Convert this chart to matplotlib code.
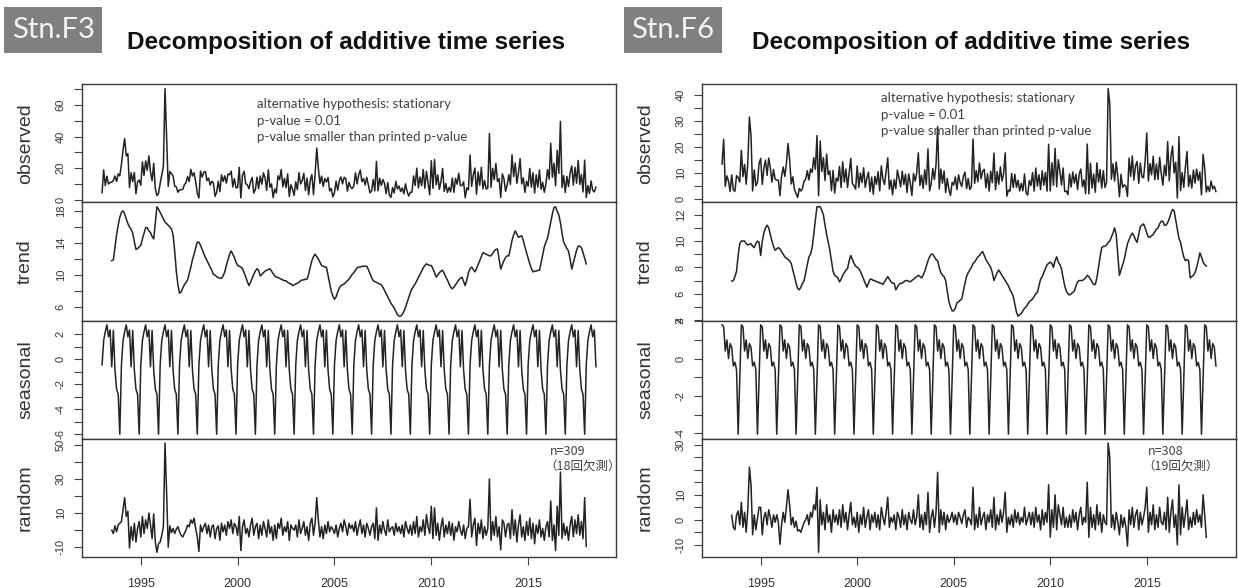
import numpy as np
import matplotlib
matplotlib.use("Agg")
import matplotlib.pyplot as plt
from matplotlib.patches import Rectangle

# ---------------- data read off the two R decompose() plots ----------------
# monthly series, first month = Jan 1993

# Stn.F3 seasonal component, Jan..Dec (repeats every year)
f3_seasonal = [-0.45, 1.5, 2.2, 2.75, 1.8, 2.35, -0.6, 2.3, -0.85, -2.4, -2.8, -6.0]

# Stn.F3 trend, Jul 1993 .. Jan 2018
f3_trend = [
    11.8, 11.9, 13.5, 15.0, 16.2, 17.2,
    17.8, 18.0, 17.6, 17.0, 16.4, 16.0, 15.7, 15.2, 14.2, 13.2, 13.3, 13.5,
    13.7, 14.5, 15.2, 15.9, 15.9, 15.5, 15.3, 14.8, 14.5, 16.5, 18.5, 18.2,
    17.8, 17.4, 17.0, 16.6, 16.4, 16.2, 16.0, 15.75, 15.0, 13.0, 10.5, 8.8,
    7.75, 7.9, 8.4, 8.8, 9.1, 9.4, 10.2, 11.0, 11.9, 12.6, 13.4, 14.1,
    14.1, 13.7, 13.2, 12.7, 12.2, 11.8, 11.4, 11.0, 10.6, 10.1, 10.0, 9.8,
    9.7, 9.6, 9.6, 9.9, 10.4, 11.2, 11.9, 12.6, 13.0, 12.6, 12.2, 11.6,
    11.2, 11.1, 11.0, 10.8, 10.3, 9.8, 9.2, 8.7, 9.1, 9.6, 10.1, 10.5,
    10.8, 10.6, 9.9, 10.1, 10.3, 10.5, 10.6, 10.7, 10.8, 10.5, 10.2, 9.9,
    9.75, 9.7, 9.6, 9.5, 9.4, 9.3, 9.3, 9.1, 9.0, 8.9, 8.7, 8.8,
    8.9, 9.0, 9.1, 9.3, 9.4, 9.4, 9.5, 9.5, 10.1, 11.0, 11.8, 12.3,
    12.6, 12.3, 12.0, 11.6, 11.2, 11.1, 11.0, 11.0, 10.0, 9.0, 8.0, 7.4,
    7.0, 7.3, 7.9, 8.4, 8.7, 8.8, 8.9, 9.1, 9.3, 9.5, 9.8, 10.1,
    10.3, 10.6, 10.9, 11.0, 11.0, 11.1, 11.1, 11.1, 11.1, 10.7, 10.2, 9.7,
    9.3, 9.2, 9.1, 9.0, 8.9, 8.8, 8.5, 8.1, 7.7, 7.3, 6.9, 6.5,
    6.2, 5.9, 5.5, 5.1, 4.9, 4.9, 5.1, 5.5, 6.0, 6.6, 7.2, 7.8,
    8.3, 8.6, 8.9, 9.3, 9.7, 10.1, 10.5, 10.9, 11.2, 11.4, 11.3, 11.2,
    11.2, 10.8, 10.3, 9.75, 10.0, 10.3, 10.5, 10.6, 10.2, 9.75, 9.4, 8.9,
    8.5, 8.3, 8.5, 8.8, 9.1, 9.4, 9.6, 9.75, 9.2, 8.7, 9.4, 10.3,
    10.8, 11.0, 10.7, 10.4, 10.8, 11.3, 11.8, 12.3, 12.8, 12.7, 12.6, 12.5,
    12.4, 12.4, 12.7, 13.0, 13.2, 13.25, 12.0, 10.75, 11.3, 11.8, 12.2, 12.4,
    12.4, 13.3, 14.3, 15.0, 15.5, 15.1, 14.7, 14.8, 14.9, 14.3, 13.5, 12.8,
    12.1, 11.4, 10.8, 10.4, 10.5, 10.5, 10.6, 10.6, 11.5, 12.5, 13.5, 14.1,
    14.6, 15.6, 16.6, 17.6, 18.4, 18.5, 17.9, 17.5, 16.5, 15.2, 14.1, 13.7,
    13.3, 13.0, 12.0, 10.75, 11.5, 12.3, 13.1, 13.6, 13.6, 13.4, 12.8, 12.1,
    11.4,
]

# Stn.F3 random component, same months as the trend
f3_random = [
    0.0, -2.0, 2.5, -1.0, 3.0, 4.0,
    5.0, 12.0, 19.0, 8.0, 11.0, -10.5, 2.0, -6.0, 4.0, -7.0, 1.0, 5.0,
    -4.0, 8.0, -2.0, 6.0, 1.0, 10.0, 3.0, -5.0, 9.5, -7.0, -13.0, -8.0,
    -7.0, -3.0, 2.0, 51.0, 22.0, -10.0, 2.5, -1.5, 1.0, -2.0, 0.5, 2.0,
    -1.0, -3.0, -4.0, -2.0, 0.0, 3.0, 2.0, 6.0, 4.0, 7.0, 1.0, -4.0,
    -12.5, 3.0, -1.0, 2.0, 4.0, -2.0, 3.0, -4.0, 2.0, 3.0, -5.0, 1.0,
    2.5, -6.0, 4.0, -1.0, 3.0, -3.0, 5.0, 1.0, 6.0, -2.0, 4.0, 2.0,
    -3.0, 8.0, -12.0, 2.0, 6.0, -2.0, 1.0, -4.0, 3.0, 7.0, -3.0, 2.0,
    4.0, -5.0, 3.0, -3.0, 5.0, 1.0, -4.0, 6.0, -2.0, 2.0, -6.0, 3.0,
    -5.0, 4.0, 1.0, 7.0, -3.0, 2.0, -1.0, 5.0, -6.0, 3.0, 1.0, 0.0,
    3.0, -4.0, 6.0, -2.0, 1.0, 5.0, -3.0, 2.0, -6.0, 4.0, 7.0, -3.0,
    4.0, 19.0, 6.0, -4.0, 2.0, -5.0, 3.0, -2.0, 5.0, -1.0, 2.0, 0.5,
    -2.0, 3.0, -4.0, 1.0, 4.0, -1.0, 6.0, 2.0, -3.0, 4.0, 1.0, 3.0,
    -1.0, 5.0, -3.0, 2.0, 6.0, -2.0, 3.0, -4.0, 4.0, 1.0, -3.0, 2.0,
    4.0, -5.0, 13.0, -6.0, 3.0, -2.0, 5.0, 0.0, -3.0, 6.0, -1.0, 1.0,
    2.0, -3.0, 4.0, -1.0, 2.0, -2.0, 3.0, -4.0, 5.0, 1.0, -2.0, 3.0,
    -3.0, 5.0, -2.0, 8.0, -4.0, 2.0, -1.0, 6.0, -3.0, 9.0, 2.0, -2.0,
    14.0, -5.0, 13.0, -3.0, 4.0, -6.0, 2.0, 7.0, -4.0, 3.0, -2.0, 5.0,
    -3.0, 4.0, -6.0, 2.0, -1.0, 5.0, 0.0, -3.0, 3.0, -5.0, 1.0, 2.0,
    18.0, -4.0, 3.0, 7.0, -9.0, 4.0, -2.0, 6.0, -5.0, 2.0, -3.0, 1.0,
    30.0, -6.0, 5.0, -3.0, 8.0, -4.0, 2.0, -11.5, 6.0, 4.0, -4.0, 3.0,
    4.0, -5.0, 12.0, -3.0, 6.0, -7.0, 3.0, 9.0, -4.0, 2.0, -6.0, 5.0,
    -3.0, 7.0, -5.0, 4.0, -8.0, 3.0, -2.0, 6.0, -4.0, 1.0, -6.0, 2.0,
    5.0, -4.0, 17.0, -6.0, 3.0, -12.0, 14.0, -3.0, 34.0, -5.0, 4.0, -3.0,
    2.0, -6.0, 3.0, 8.0, -4.0, 6.0, -2.0, 9.0, -3.0, 5.0, -5.0, 19.0,
    -9.5,
]

# Stn.F3 observed months without a trend value (first / last six)
f3_obs_head = [4.5, 19.0, 9.0, 15.0, 10.0, 11.0]
f3_obs_tail = [9.0, 4.0, 12.0, 6.0, 5.0, 8.0]

# Stn.F6 seasonal component, Jan..Dec
f6_seasonal = [1.8, 1.7, 0.4, 1.0, 0.0, 0.8, 0.6, -0.4, -0.2, -0.6, -4.05, -1.2]

# Stn.F6 trend, Jul 1993 .. Feb 2018
f6_trend = [
    6.96, 7.0, 7.3, 7.7, 8.9, 9.8,
    10.0, 10.0, 10.0, 9.8, 9.7, 9.75, 9.8, 9.6, 9.5, 9.8, 10.0, 9.9,
    8.9, 10.0, 10.6, 11.0, 11.2, 11.0, 10.5, 10.0, 9.6, 9.3, 9.4, 9.5,
    9.4, 9.2, 9.0, 8.8, 8.7, 8.6, 8.5, 8.3, 7.8, 7.3, 6.8, 6.4,
    6.3, 6.5, 6.8, 7.0, 7.6, 8.2, 8.8, 9.0, 9.5, 10.5, 11.6, 12.6,
    12.6, 12.6, 12.3, 12.0, 11.2, 10.5, 9.9, 9.3, 8.5, 7.7, 7.4, 7.3,
    7.2, 6.9, 7.1, 7.4, 7.6, 7.8, 7.9, 8.5, 8.9, 8.6, 8.3, 8.1,
    8.0, 7.9, 7.7, 7.4, 7.1, 6.8, 6.5, 6.8, 7.1, 7.1, 7.0, 7.0,
    6.9, 6.9, 6.8, 6.8, 6.7, 6.9, 7.1, 7.3, 7.1, 6.9, 6.8, 6.8,
    6.3, 6.5, 6.7, 6.8, 6.8, 6.9, 7.0, 7.0, 6.95, 6.9, 7.0, 7.1,
    7.2, 7.3, 7.4, 7.3, 7.2, 7.4, 7.7, 8.1, 8.5, 8.8, 9.0, 9.0,
    8.8, 8.6, 8.5, 8.0, 7.6, 7.4, 7.3, 7.0, 6.2, 5.4, 5.0, 4.7,
    4.7, 4.9, 5.3, 5.4, 5.5, 5.6, 6.2, 6.8, 7.3, 7.6, 7.8, 8.0,
    8.3, 8.4, 8.6, 8.8, 8.9, 9.1, 9.2, 8.9, 8.6, 8.4, 8.2, 8.0,
    7.6, 7.0, 7.3, 7.6, 7.8, 7.6, 7.4, 7.2, 7.0, 6.8, 6.6, 6.3,
    6.1, 5.8, 5.2, 4.6, 4.3, 4.4, 4.5, 4.7, 4.9, 5.0, 5.2, 5.4,
    5.5, 5.6, 5.8, 6.0, 6.1, 6.6, 7.1, 7.3, 7.6, 7.9, 8.2, 8.3,
    8.4, 8.3, 8.0, 8.5, 8.8, 8.4, 8.2, 7.9, 7.2, 6.6, 6.2, 6.0,
    5.9, 6.0, 6.1, 6.2, 6.6, 6.9, 7.0, 7.0, 7.0, 7.1, 7.2, 7.4,
    7.3, 7.1, 6.9, 6.7, 6.7, 7.2, 8.0, 8.8, 9.5, 9.6, 9.6, 9.7,
    9.9, 10.0, 10.3, 10.6, 11.0, 10.5, 9.0, 7.4, 7.8, 8.2, 8.6, 9.2,
    9.8, 10.1, 10.4, 10.6, 10.4, 10.1, 9.9, 10.5, 11.1, 11.2, 11.3, 11.0,
    10.6, 10.3, 10.3, 10.4, 10.5, 10.7, 10.9, 11.0, 11.3, 11.5, 11.5, 11.2,
    11.2, 11.4, 11.7, 12.1, 12.4, 12.3, 11.6, 10.9, 10.2, 9.9, 9.3, 8.8,
    8.5, 8.6, 8.5, 7.2, 7.3, 7.4, 7.6, 8.0, 8.5, 9.1, 8.8, 8.4,
    8.2, 8.1,
]

# Stn.F6 random component, same months as the trend
f6_random = [
    1.8, -3.0, -4.0, 2.0, 3.5, -2.0,
    7.0, -3.0, 3.0, -5.0, 4.0, 21.0, 14.0, -6.0, 2.0, -4.0, 0.5, 5.0,
    5.0, -6.0, 1.0, 3.0, -2.0, 4.0, 1.0, -3.0, 2.0, -1.0, 2.0, -1.0,
    -9.8, -2.0, 3.0, -1.0, 5.0, 12.0, 6.0, -2.0, 1.0, -3.0, -0.5, -4.5,
    -4.0, -5.0, -3.0, -1.0, 0.0, 2.0, -2.0, 3.0, 1.0, 6.0, 4.0, 13.0,
    -13.0, 8.0, -2.0, 3.0, -4.0, 6.0, -1.0, 2.0, -5.0, 4.0, -1.0, 2.0,
    -2.0, 4.0, -3.0, 6.0, -1.0, 3.0, -4.0, 2.0, 7.0, -2.0, 1.0, -3.0,
    3.0, -5.0, 2.0, -2.0, 5.0, -3.0, 1.0, 4.0, -4.0, 2.0, -1.0, 3.0,
    -3.0, 2.0, -4.0, 5.0, 1.0, -2.0, 3.0, 9.0, -3.0, 1.0, -1.0, 2.0,
    -4.0, 3.0, 1.0, -3.0, 4.0, -2.0, 2.0, -4.0, 3.0, 0.0, -1.5, 4.0,
    -2.0, 1.0, 10.0, -3.0, 2.0, -4.0, 3.0, -2.0, 11.0, -5.0, 1.0, 4.0,
    -3.0, 3.0, 19.0, -5.0, 4.0, -2.0, 3.0, -4.0, 2.0, -1.0, 0.5, 3.0,
    -1.0, 2.0, -2.0, 3.0, 1.0, -1.5, 2.0, 4.0, -3.0, 1.0, 0.0, -2.0,
    13.0, -4.0, 2.0, -3.0, 5.0, -2.0, 1.0, 3.0, -4.0, 2.0, -1.0, 4.0,
    -3.0, 9.0, -4.0, 2.0, -2.0, 4.0, -1.0, 3.0, 11.0, -5.0, 1.0, -2.0,
    2.0, -3.0, 4.0, -1.0, 3.0, -2.0, 1.0, -1.0, 5.0, -2.0, 0.5, 3.0,
    -2.0, 3.0, -3.0, 5.0, -1.0, 2.0, -4.0, 4.0, -2.0, 3.0, -1.0, 14.0,
    -7.0, 4.0, -3.0, 10.0, -4.0, 6.0, 2.0, -2.0, 5.0, -3.0, 1.0, -3.0,
    2.0, -3.0, 4.0, -1.0, 3.0, -4.0, 2.0, 5.0, -2.0, 1.0, -1.0, 15.0,
    -7.0, 5.0, -3.0, 2.0, -4.0, 6.0, -2.0, 3.0, -5.0, 2.0, -1.0, -2.0,
    30.7, 25.0, -3.0, 2.0, -4.0, 3.0, -1.0, -6.0, 2.0, -3.0, 1.0, -3.0,
    -10.5, 4.0, -2.0, 5.0, -3.0, 2.0, 4.0, -4.0, 3.0, -2.0, 1.0, 5.0,
    13.0, -5.0, 3.0, -2.0, 6.0, -4.0, 2.0, -3.0, 5.0, -1.0, -2.0, 3.0,
    -4.0, 9.0, -5.0, 3.0, 8.0, -3.0, 2.0, -10.0, 14.0, -6.0, 5.0, -3.0,
    2.0, 8.0, -4.0, 1.0, -3.0, 3.0, -2.0, 4.0, -1.0, 2.0, -3.0, 10.0,
    2.0, -7.0,
]

f6_obs_head = [13.5, 23.0, 5.0, 9.0, 7.0, 3.0]
f6_obs_tail = [5.0, 3.0, 7.0, 4.0, 5.0, 3.0]

panel_names = ["observed", "trend", "seasonal", "random"]
x_ticks = [1995, 2000, 2005, 2010, 2015]

# y ticks per panel; labels R left out (overlap) are blank
f3_yticks = [
    (list(range(0, 71, 10)), [0, 20, 40, 60]),
    (list(range(6, 19, 2)), [6, 10, 14, 18]),
    (list(range(-6, 3)), [-6, -4, -2, 0, 2]),
    (list(range(-10, 51, 10)), [-10, 10, 30, 50]),
]
f6_yticks = [
    (list(range(0, 41, 5)), [0, 10, 20, 30, 40]),
    (list(range(4, 13)), [4, 6, 8, 10, 12]),
    (list(range(-4, 3)), [-4, -2, 0, 2]),
    (list(range(-10, 31, 5)), [-10, 0, 10, 30]),
]


def decompose_series(head, trend, random, tail, seasonal):
    """Rebuild the four R decompose() components on a monthly time axis."""
    trend = np.asarray(trend, dtype=float)
    random = np.asarray(random, dtype=float)
    a = len(head)
    b = a + len(trend)
    n = b + len(tail)
    t = 1993 + np.arange(n) / 12.0
    seas = np.resize(np.asarray(seasonal, dtype=float), n)
    obs = np.concatenate([head, trend + seas[a:b] + random, tail])
    tr = np.full(n, np.nan)
    tr[a:b] = trend
    rn = np.full(n, np.nan)
    rn[a:b] = random
    return t, [obs, tr, seas, rn]


stations = [
    dict(tag="Stn.F3", data=(f3_obs_head, f3_trend, f3_random, f3_obs_tail, f3_seasonal),
         yticks=f3_yticks, dx=0, txt_y=(104, 120.7, 137.3), txt_x=256.7,
         n_text="n=309", miss_text="（18回欠測）", n_x=550),
    dict(tag="Stn.F6", data=(f6_obs_head, f6_trend, f6_random, f6_obs_tail, f6_seasonal),
         yticks=f6_yticks, dx=620, txt_y=(98, 114.7, 131.3), txt_x=261,
         n_text="n=308", miss_text="（19回欠測）", n_x=528),
]

# ---------------- layout (pixels of the 1238x588 reference) ----------------
W, H = 1238.0, 588.0
AX_L, AX_W = 82.3, 533.4
TOP, BOT = 84.3, 556.7
PH = (BOT - TOP) / 4
LINE_C = "#232323"
TEXT_C = "#333333"
FONT = "Liberation Sans"
JP_FONT = ["Noto Sans CJK JP", "DejaVu Sans"]

fig = plt.figure(figsize=(W / 100, H / 100), dpi=100)
fig.patch.set_facecolor("white")

for st in stations:
    dx = st["dx"]
    t, comps = decompose_series(*st["data"])
    pad_x = 0.04 * (t[-1] - t[0])
    for i, (name, y) in enumerate(zip(panel_names, comps)):
        rect = [(AX_L + dx) / W, 1 - (TOP + (i + 1) * PH) / H, AX_W / W, PH / H]
        ax = fig.add_axes(rect)
        ax.plot(t, y, color=LINE_C, lw=1.1)
        ax.set_xlim(t[0] - pad_x, t[-1] + pad_x)
        lo, hi = np.nanmin(y), np.nanmax(y)
        pad_y = 0.04 * (hi - lo)
        ax.set_ylim(lo - pad_y, hi + pad_y)

        ticks, shown = st["yticks"][i]
        ax.set_yticks(ticks)
        ax.set_yticklabels([str(v) if v in shown else "" for v in ticks],
                           family=FONT, fontsize=8, color=TEXT_C)
        ax.tick_params(axis="y", direction="out", length=6, width=0.8,
                       color="#444444", pad=6, labelrotation=90)
        for lab in ax.get_yticklabels():
            lab.set_va("center")

        ax.set_ylabel(name, family=FONT, fontsize=14, color=TEXT_C, va="center")
        ax.yaxis.set_label_coords((25.5 - AX_L) / AX_W, 0.5)

        if i < 3:
            ax.tick_params(axis="x", bottom=False, labelbottom=False)
        else:
            ax.set_xticks(x_ticks)
            ax.set_xticklabels([str(v) for v in x_ticks], family=FONT,
                               fontsize=9, color=TEXT_C)
            ax.tick_params(axis="x", direction="out", length=6, width=0.8,
                           color="#444444", pad=9)
        for sp in ax.spines.values():
            sp.set_color("#3a3a3a")
            sp.set_linewidth(1.0)

    # station tag box
    fig.patches.append(Rectangle(((4 + dx) / W, 1 - 53 / H), 98 / W, 46 / H,
                                 transform=fig.transFigure, facecolor="#808080",
                                 edgecolor="none"))
    fig.text((53 + dx) / W, 1 - 30 / H, st["tag"], ha="center", va="center",
             fontsize=21, color="#f2f2f2", family="Lato")

    # R title
    fig.text((346 + dx * 1.008) / W, 1 - 42 / H, "Decomposition of additive time series",
             ha="center", va="center", fontsize=17.5, fontweight="bold",
             family=FONT, color="#111111")

    # KPSS note in the observed panel
    notes = ["alternative hypothesis: stationary", "p-value = 0.01",
             "p-value smaller than printed p-value"]
    for note, yy in zip(notes, st["txt_y"]):
        fig.text((st["txt_x"] + dx) / W, 1 - yy / H, note, ha="left", va="center",
                 fontsize=9.5, color="#404040", family="Lato")

    # sample size note in the random panel
    fig.text((st["n_x"] + dx) / W, 1 - 451.7 / H, st["n_text"], ha="left",
             va="center", fontsize=9, color="#404040", family=JP_FONT)
    fig.text((st["n_x"] - 6 + dx) / W, 1 - 467 / H, st["miss_text"], ha="left",
             va="center", fontsize=9, color="#404040", family=JP_FONT)

fig.savefig("out.png", dpi=100, facecolor="white")
